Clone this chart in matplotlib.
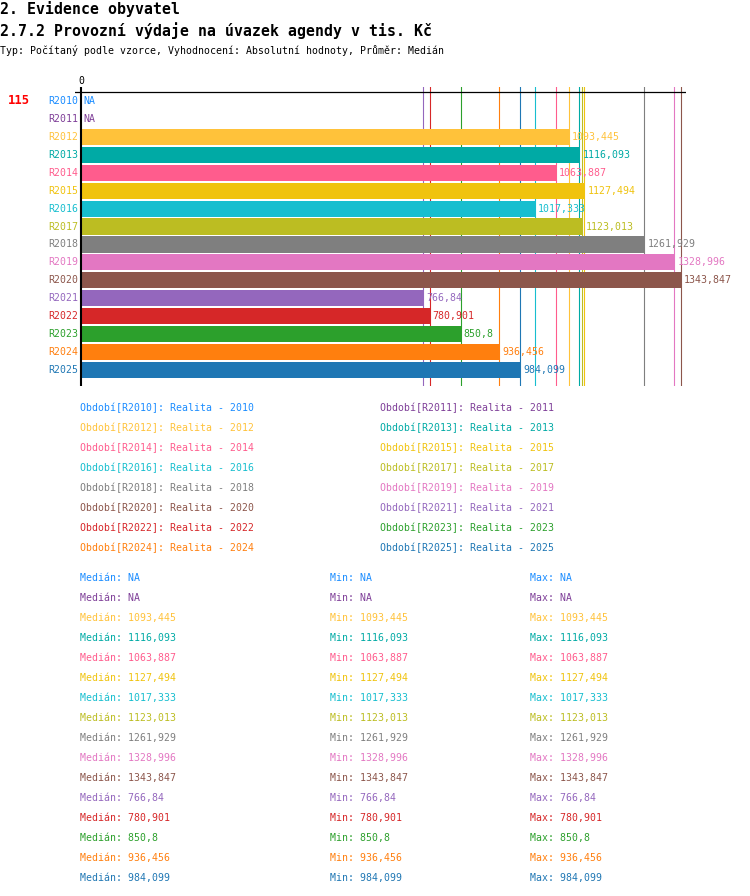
import matplotlib
matplotlib.use("Agg")
import matplotlib.pyplot as plt

# ---- data ----
periods = ["R2010", "R2011", "R2012", "R2013", "R2014", "R2015", "R2016", "R2017",
           "R2018", "R2019", "R2020", "R2021", "R2022", "R2023", "R2024", "R2025"]
years = [2010, 2011, 2012, 2013, 2014, 2015, 2016, 2017,
         2018, 2019, 2020, 2021, 2022, 2023, 2024, 2025]
values = [None, None, 1093.445, 1116.093, 1063.887, 1127.494, 1017.333, 1123.013,
          1261.929, 1328.996, 1343.847, 766.84, 780.901, 850.8, 936.456, 984.099]
colors = ["#1a8cff", "#7f3f98", "#ffc23a", "#00aaa5", "#ff5c8d", "#f0c30e", "#17becf", "#bcbd22",
          "#7f7f7f", "#e377c2", "#8c564b", "#9467bd", "#d62728", "#2ca02c", "#ff7f0e", "#1f77b4"]

title1 = "2. Evidence obyvatel"
title2 = "2.7.2 Provozní výdaje na úvazek agendy v tis. Kč"
subtitle = "Typ: Počítaný podle vzorce, Vyhodnocení: Absolutní hodnoty, Průměr: Medián"
count_label = "115"

W, H = 750, 896
FONT = "DejaVu Sans Mono"
plt.rcParams["font.family"] = [FONT, "DejaVu Sans"]

fig = plt.figure(figsize=(W / 100, H / 100), dpi=100)


def fx(px):
    return px / W


def fy(py):
    return 1 - py / H


def fmt(v):
    return "NA" if v is None else repr(v).replace(".", ",")


# titles
fig.text(fx(0), fy(9), title1, fontsize=10.7, fontweight="bold", va="center", ha="left")
fig.text(fx(0), fy(31), title2, fontsize=10.7, fontweight="bold", va="center", ha="left")
fig.text(fx(0), fy(50), subtitle, fontsize=7.1, va="center", ha="left")

# axes geometry
ax_left, ax_right, ax_top, ax_bot = 75, 686, 87, 386
ax = fig.add_axes([fx(ax_left), fy(ax_bot), (ax_right - ax_left) / W, (ax_bot - ax_top) / H])
s = 600.0 / 1343.847
x0 = 81
ax.set_xlim((ax_left - x0) / s, (ax_right - x0) / s)
row0, step = 101, 17.93
ax.set_ylim((ax_bot - row0) / step, (ax_top - row0) / step)
ax.axis("off")

n = len(periods)
ypos = list(range(n))
bar_vals = [0 if v is None else v for v in values]
ax.barh(ypos, bar_vals, height=0.9, color=colors, zorder=2)

for v, c in zip(values, colors):
    if v is not None:
        ax.axvline(v, color=c, lw=0.8, zorder=1)

ax.axhline(-0.5, color="black", lw=0.9, zorder=3)
ax.axvline(0, color="black", lw=1.5, zorder=4)

ax.annotate("0", xy=(0, ax.get_ylim()[1]), xytext=(0, 6), textcoords="offset pixels",
            ha="center", va="center", fontsize=7.1, annotation_clip=False)

for i, (p, v, c) in enumerate(zip(periods, values, colors)):
    ax.annotate(p, xy=(0, i), xytext=(-3, 0), textcoords="offset pixels",
                ha="right", va="center", fontsize=7.1, color=c, annotation_clip=False)
    xv = 0 if v is None else v
    ax.annotate(fmt(v), xy=(xv, i), xytext=(2 if v is None else 3, 0), textcoords="offset pixels",
                ha="left", va="center", fontsize=7.1, color=c, annotation_clip=False, zorder=5)

fig.text(fx(8), fy(101), count_label, color="red", fontsize=8.8, fontweight="bold",
         va="center", ha="left")

# legend
for i, (p, yv, c) in enumerate(zip(periods, years, colors)):
    col = i % 2
    row = i // 2
    fig.text(fx(80 + 300 * col), fy(408 + 20 * row), f"Období[{p}]: Realita - {yv}",
             color=c, fontsize=7.1, va="center", ha="left")

# stats
for i, (v, c) in enumerate(zip(values, colors)):
    yy = fy(578 + 20 * i)
    fig.text(fx(80), yy, f"Medián: {fmt(v)}", color=c, fontsize=7.1, va="center", ha="left")
    fig.text(fx(330), yy, f"Min: {fmt(v)}", color=c, fontsize=7.1, va="center", ha="left")
    fig.text(fx(530), yy, f"Max: {fmt(v)}", color=c, fontsize=7.1, va="center", ha="left")

fig.savefig("out.png", dpi=100)
